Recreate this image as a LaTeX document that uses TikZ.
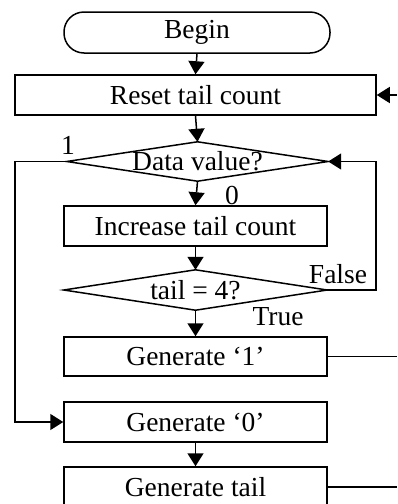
\documentclass[tikz,border=0pt]{standalone}
\usepackage{fontspec}
\setmainfont{Liberation Serif}
\usetikzlibrary{arrows.meta}
\begin{document}
\begin{tikzpicture}[x=1pt,y=-1pt,
  every node/.style={font=\fontsize{27.5}{30}\selectfont, inner sep=0pt},
  box/.style={draw, line width=1.5pt, rectangle, minimum height=40pt},
  term/.style={draw, line width=1.5pt, rectangle, rounded corners=20pt, minimum width=266pt, minimum height=41pt},
  decision/.style={rectangle, minimum height=39pt},
  dline/.style={line width=1.5pt},
  conn/.style={line width=1.5pt},
  arr/.style={conn, -{Triangle[length=13pt,width=16pt]}},
  lbl/.style={}]
\useasboundingbox (0,0) rectangle (397,504);
\node[term] (begin) at (197,32.5) {Begin};
\node[box, minimum width=361pt] (reset) at (195.5,95) {Reset tail count};
\node[decision, minimum width=261pt] (data) at (197.5,161.5) {Data value?};
\node[box, minimum width=263pt] (incr) at (195.5,226) {Increase tail count};
\node[decision, minimum width=263pt, minimum height=40pt] (tail) at (195.5,290) {tail = 4?};
\node[box, minimum width=263pt, minimum height=39pt] (gen1) at (195.5,356.5) {Generate ‘1’};
\node[box, minimum width=263pt] (gen0) at (195.5,422) {Generate ‘0’};
\node[box, minimum width=263pt] (gentail) at (195.5,487) {Generate tail};

\draw[dline] (data.west) -- (data.north) -- (data.east) -- (data.south) -- cycle;
\draw[dline] (tail.west) -- (tail.north) -- (tail.east) -- (tail.south) -- cycle;

\node[lbl] (l1) at (68,145) {1};
\node[lbl] (l0) at (232,195) {0};
\node[lbl] (lf) at (338,274) {False};
\node[lbl] (lt) at (278,317) {True};

\coordinate (inreset) at (397,95);
\coordinate (leftc) at (15,161.5);
\coordinate (rightc) at (376,290);
\coordinate (out1) at (397,356.5);
\coordinate (outtail) at (397,487);

\draw[arr] (begin.south) -- (reset.north);
\draw[arr] (inreset) -- (reset.east);
\draw[arr] (reset.south) -- (data.north);
\draw[arr] (data.south) -- (incr.north);
\draw[arr] (incr.south) -- (tail.north);
\draw[arr] (tail.south) -- (gen1.north);
\draw[arr] (gen0.south) -- (gentail.north);
\draw[arr] (data.west) -- (leftc) |- (gen0.west);
\draw[arr] (tail.east) -- (rightc) |- (data.east);
\draw[conn] (gen1.east) -- (out1);
\draw[conn] (gentail.east) -- (outtail);
\end{tikzpicture}
\end{document}
